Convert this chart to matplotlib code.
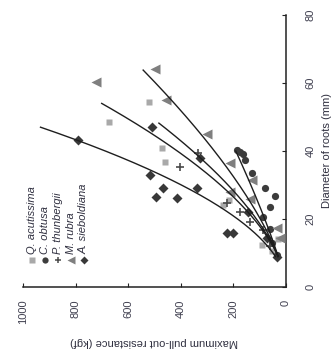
import numpy as np
import matplotlib
matplotlib.use("Agg")
import matplotlib.pyplot as plt

plt.rcParams['font.family'] = ['Liberation Sans', 'DejaVu Sans']

# Root diameter (mm) and maximum pull-out resistance (kgf) per species
species = ["Q. acutissima", "C. obtusa", "P. thunbergii", "M. rubra", "A. sieboldiana"]

q_acutissima_d = [54.4, 48.5, 41.0, 36.8, 25.5, 24.0, 14.0, 12.4, 10.5]
q_acutissima_r = [521, 673, 471, 460, 215, 240, 30, 91, 55]

c_obtusa_d = [40.3, 39.7, 39.0, 37.4, 33.5, 29.0, 26.8, 23.5, 20.6, 17.0, 13.0, 9.4]
c_obtusa_r = [186, 175, 163, 156, 129, 80, 42, 61, 87, 60, 55, 34]

p_thunbergii_d = [39.4, 35.3, 24.7, 22.0, 19.0, 16.8, 12.0]
p_thunbergii_r = [334, 403, 224, 175, 137, 87, 60]

m_rubra_d = [60.3, 64.0, 55.0, 45.0, 36.5, 31.5, 28.0, 26.0, 17.4, 14.4]
m_rubra_r = [722, 498, 456, 300, 213, 129, 213, 137, 34, 23]

a_sieboldiana_d = [43.2, 47.0, 38.0, 33.0, 29.0, 26.5, 26.2, 29.0, 15.9, 15.9, 22.0, 14.4, 8.8]
a_sieboldiana_r = [791, 509, 327, 517, 467, 494, 414, 338, 224, 201, 144, 72, 34]

# Power-law regressions r = a * d^b over each species' diameter range
fit_a = [0.626, 1.97, 0.789, 1.163, 0.621]
fit_b = [1.76, 1.24, 1.656, 1.479, 1.90]
fit_dmin = [9.0, 9.0, 9.0, 9.0, 9.0]
fit_dmax = [54.0, 40.0, 48.2, 63.8, 47.0]

series_d = [q_acutissima_d, c_obtusa_d, p_thunbergii_d, m_rubra_d, a_sieboldiana_d]
series_r = [q_acutissima_r, c_obtusa_r, p_thunbergii_r, m_rubra_r, a_sieboldiana_r]

# Figure is laid out turned a quarter turn: resistance runs right-to-left, diameter upward
markers = ["s", "o", "P", "<", "D"]
colors = ["#a9a9a9", "#3c3c3c", "#4a4a4a", "#7f7f7f", "#383838"]
sizes = [5.0, 5.2, 6.0, 7.5, 4.6]

W, H = 335, 361
fig = plt.figure(figsize=(W / 100, H / 100), dpi=100)
ax = fig.add_axes([23 / W, 1 - 287 / H, 263 / W, 272 / H])

for d, r, m, c, s in zip(series_d, series_r, markers, colors, sizes):
    if m == "P":
        ax.plot(r, d, linestyle="none", marker="+", ms=s, mew=1.2, color=c, zorder=3)
    else:
        ax.plot(r, d, linestyle="none", marker=m, ms=s, mec="none", color=c, zorder=3)

for a, b, d0, d1 in zip(fit_a, fit_b, fit_dmin, fit_dmax):
    dd = np.linspace(d0, d1, 200)
    ax.plot(a * dd ** b, dd, color="#1e1e1e", lw=1.0, zorder=4)

ax.set_xlim(1000, 0)
ax.set_ylim(0, 80)
for side in ("top", "left"):
    ax.spines[side].set_visible(False)
for side in ("bottom", "right"):
    ax.spines[side].set_linewidth(1.1)
    ax.spines[side].set_color("#222222")

ax.set_xticks([1000, 800, 600, 400, 200, 0])
ax.set_yticks([0, 20, 40, 60, 80])
ax.yaxis.tick_right()
ax.tick_params(axis="x", direction="in", length=3, width=0.8, pad=9,
               labelsize=8, labelcolor="#404050", colors="#222222", labelrotation=90)
ax.tick_params(axis="y", direction="in", length=3, width=0.8, pad=14,
               labelsize=8, labelcolor="#404050", colors="#222222", labelrotation=90)
for lab in ax.get_xticklabels():
    lab.set_va("top")
    lab.set_ha("center")
    lab.set_color("#404050")
for lab in ax.get_yticklabels():
    lab.set_va("center")
    lab.set_ha("left")
    lab.set_color("#404050")

fig.text(154 / W, 1 - 342 / H, "Maximum pull-out resistance (kgf)", rotation=180,
         ha="center", va="center", fontsize=8, color="#303040")
fig.text(327 / W, 1 - 151 / H, "Diameter of roots (mm)", rotation=90,
         ha="center", va="center", fontsize=8, color="#303040")

# Legend entries, stacked as rotated columns
leg_x = [32, 45, 58, 71, 84]
for i, (name, m, c) in enumerate(zip(species, markers, colors)):
    x = leg_x[i] / W
    y = 1 - 260 / H
    if m == "P":
        fig.lines.append(plt.Line2D([x], [y], marker="+", ms=5, mew=1.1, color=c,
                                    linestyle="none", transform=fig.transFigure))
    else:
        fig.lines.append(plt.Line2D([x], [y], marker=m, ms=4.5 if m != "<" else 6,
                                    mec="none", color=c, linestyle="none",
                                    transform=fig.transFigure))
    fig.text(x, 1 - 254 / H, name, rotation=90, rotation_mode="anchor",
             ha="left", va="center", fontsize=8, style="italic", color="#303040")

fig.savefig("out.png", dpi=100)
